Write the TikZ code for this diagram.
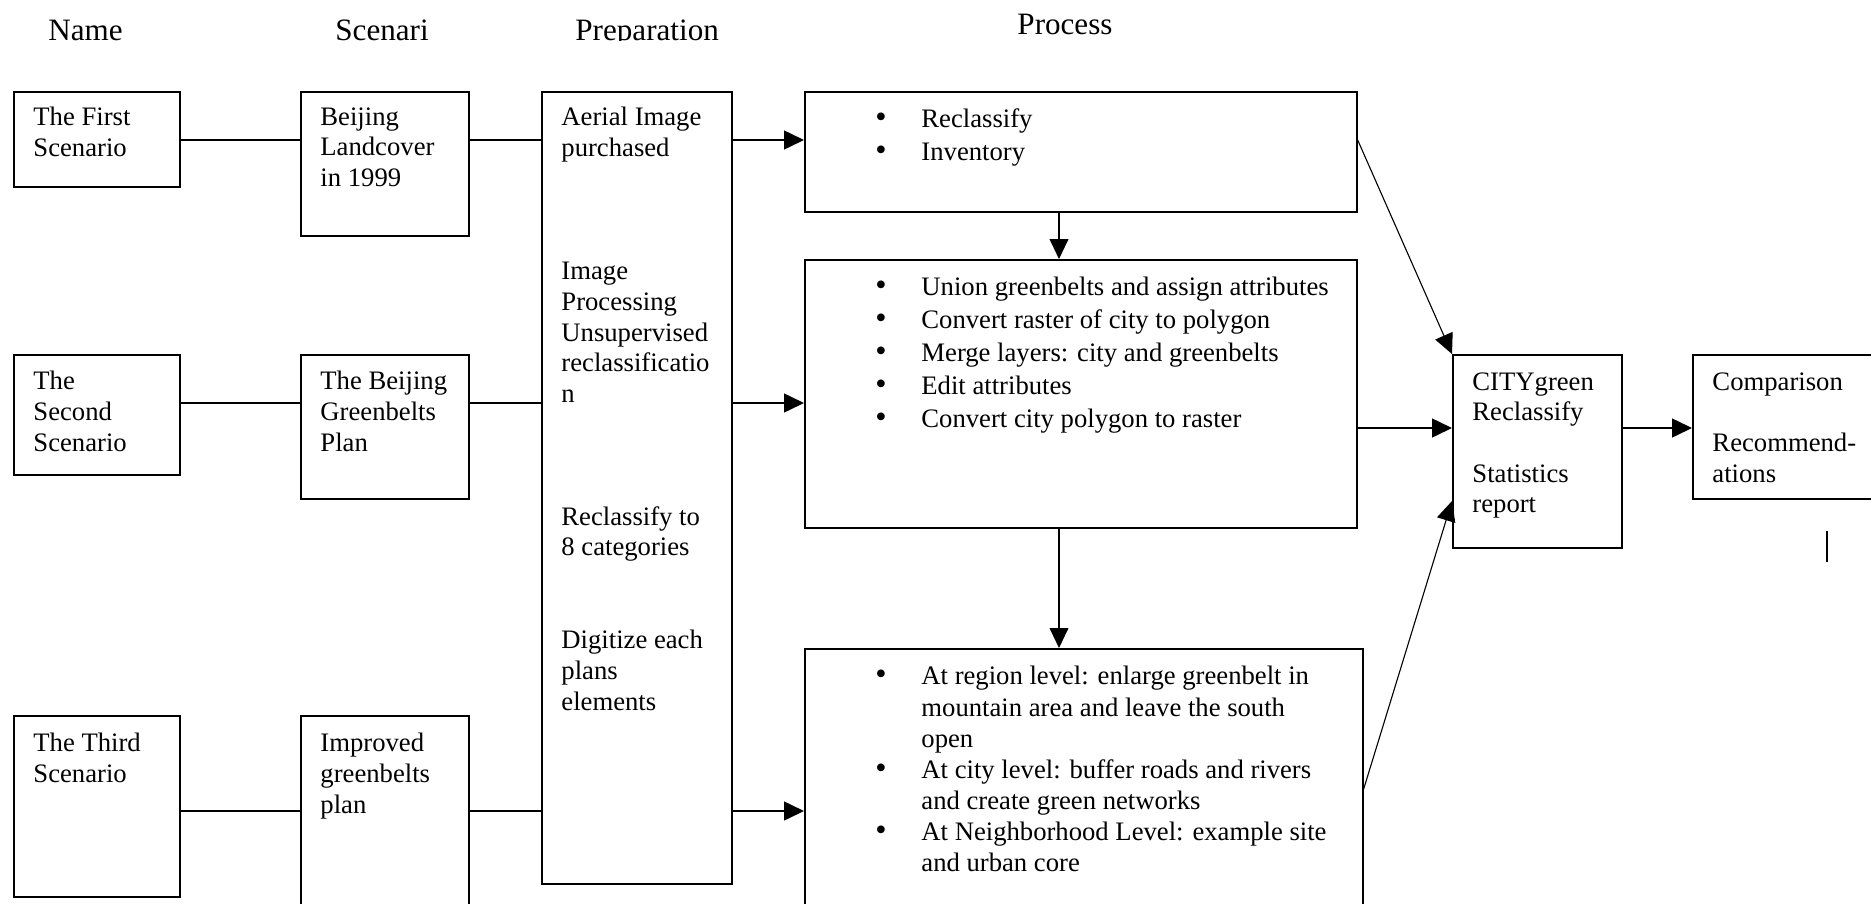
\documentclass[tikz,border=0pt]{standalone}
\usepackage{fontspec}
\setmainfont{Liberation Serif}
\usetikzlibrary{arrows.meta}
\newcommand\bitem{\makebox[20.7pt][l]{\fontsize{14.5}{14}\selectfont\textbullet}}
\newcommand\bcont{\hspace*{20.7pt}}
\tikzset{
  box/.style 2 args={draw, line width=0.75pt, anchor=north west, inner sep=0pt,
    minimum width=#1*0.45pt, minimum height=#2*0.45pt},
  txt/.style={anchor=north west, inner sep=0pt, align=left,
    font=\fontsize{12}{13.8}\selectfont, execute at begin node=\strut},
  head/.style={anchor=base west, inner sep=0pt, font=\fontsize{14}{16}\selectfont},
  link/.style={line width=0.85pt},
  arr/.style={line width=0.85pt, -{Triangle[length=9pt,width=8.5pt]}},
  arrthin/.style={line width=0.5pt, -{Triangle[length=9pt,width=8.5pt]}}
}
\begin{document}
\begin{tikzpicture}[x=0.45pt,y=0.45pt,yscale=-1]
\useasboundingbox (0,0) rectangle (1871,903);
\clip (0,0) rectangle (1871,903);

% Column headings
\begin{scope}
\clip (0,0) rectangle (1871,40);
\node[head] (hName) at (48,40) {Name};
\node[head] (hScen) at (335,40) {Scenari};
\node[head] (hPrep) at (575,40) {Preparation};
\node[head] (hProc) at (1017,34) {Process};
\end{scope}

% Boxes
\node[box={166}{95}] (first) at (13,91) {};
\node[box={166}{120}] (second) at (13,354) {};
\node[box={166}{181}] (third) at (13,715) {};
\node[box={168}{144}] (land) at (300,91) {};
\node[box={168}{144}] (green) at (300,354) {};
\node[box={168}{220}] (improved) at (300,715) {};
\node[box={190}{792}] (prep) at (541,91) {};
\node[box={552}{120}] (proc1) at (804,91) {};
\node[box={552}{268}] (proc2) at (804,259) {};
\node[box={558}{290}] (proc3) at (804,648) {};
\node[box={169}{193}] (city) at (1452,354) {};
\node[box={220}{144}] (comp) at (1692,354) {};

% Text Nodes
\node[txt] (tFirst) at (33,107) {The First\\Scenario};
\node[txt] (tSecond) at (33,371) {The\\Second\\Scenario};
\node[txt] (tThird) at (33,733) {The Third\\Scenario};
\node[txt] (tLand) at (320,107) {Beijing\\Landcover\\in 1999};
\node[txt] (tGreen) at (320,371) {The Beijing\\Greenbelts\\Plan};
\node[txt] (tImproved) at (320,733) {Improved\\greenbelts\\plan};
\node[txt] (tPrepA) at (561,107) {Aerial Image\\purchased};
\node[txt] (tPrepB) at (561,262) {Image\\Processing\\Unsupervised\\reclassificatio\\n};
\node[txt] (tPrepC) at (561,506) {Reclassify to\\8 categories};
\node[txt] (tPrepD) at (561,630) {Digitize each\\plans\\elements};
\node[txt, font=\fontsize{12}{15}\selectfont] (tProc1) at (875,108)
  {\bitem Reclassify\\\bitem Inventory};
\node[txt, font=\fontsize{12}{14.8}\selectfont] (tProc2) at (875,277)
  {\bitem Union greenbelts and assign attributes\\\bitem Convert raster of city to polygon\\
   \bitem Merge layers: city and greenbelts\\\bitem Edit attributes\\
   \bitem Convert city polygon to raster};
\node[txt, font=\fontsize{12}{14}\selectfont] (tProc3) at (875,666)
  {\bitem At region level: enlarge greenbelt in\\\bcont mountain area and leave the south\\
   \bcont open\\\bitem At city level: buffer roads and rivers\\\bcont and create green networks\\
   \bitem At Neighborhood Level: example site\\\bcont and urban core};
\node[txt] (tCity) at (1472,372) {CITYgreen\\Reclassify\\[13.8pt]Statistics\\report};
\node[txt] (tComp) at (1712,372) {Comparison\\[13.8pt]Recommend-\\ations};

% Connectors
\coordinate (row1) at (0,140);
\coordinate (row2) at (0,403);
\coordinate (row3) at (0,811);
\coordinate (row4) at (0,428);
\coordinate (rowC) at (0,789);
\coordinate (rowD) at (0,501);
\coordinate (colA) at (1059,0);

\draw[link] (first.east |- row1) -- (land.west |- row1);
\draw[link] (land.east |- row1) -- (prep.west |- row1);
\draw[arr] (prep.east |- row1) -- (proc1.west |- row1);
\draw[link] (second.east |- row2) -- (green.west |- row2);
\draw[link] (green.east |- row2) -- (prep.west |- row2);
\draw[arr] (prep.east |- row2) -- (proc2.west |- row2);
\draw[link] (third.east |- row3) -- (improved.west |- row3);
\draw[link] (improved.east |- row3) -- (prep.west |- row3);
\draw[arr] (prep.east |- row3) -- (proc3.west |- row3);

\draw[arrthin] (proc1.south -| colA) -- (proc2.north -| colA);
\draw[arrthin] (proc2.south -| colA) -- (proc3.north -| colA);
\draw[arrthin] (proc1.east |- row1) -- (city.north west);
\draw[arr] (proc2.east |- row4) -- (city.west |- row4);
\draw[arrthin] (proc3.east |- rowC) -- (city.west |- rowD);
\draw[arr] (city.east |- row4) -- (comp.west |- row4);

% stray mark
\draw[line width=0.9pt] (1827,531) -- (1827,562);

\end{tikzpicture}
\end{document}
